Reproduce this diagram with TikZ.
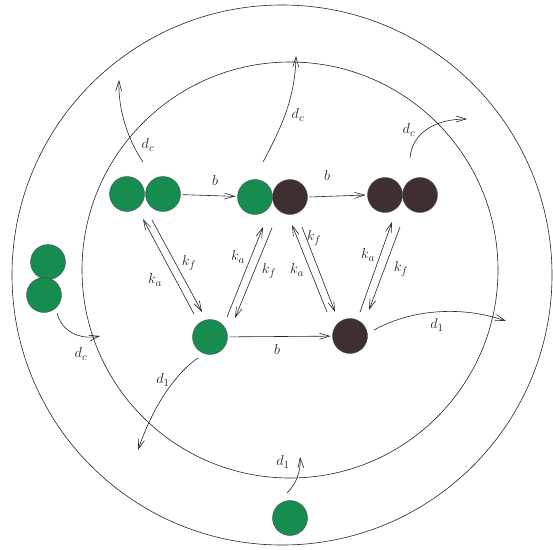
\documentclass[tikz,border=0pt]{standalone}
\usepackage{amsmath,amssymb}
\usepackage{tikz}
\usetikzlibrary{arrows.meta,calc}
\definecolor{ink}{RGB}{40,36,36}
\definecolor{ballgreen}{RGB}{22,140,80}
\definecolor{balldark}{RGB}{62,48,48}

\begin{document}
\begin{tikzpicture}[x=1pt,y=-1pt,line width=0.6pt,
    ball/.style={circle,minimum size=35pt,inner sep=0pt,outer sep=2pt,draw=ink!80,line width=0.4pt},
    gball/.style={ball,fill=ballgreen},
    dball/.style={ball,fill=balldark},
    flow/.style={draw=ink,-{Straight Barb[length=10pt,width=6pt]}},
    rate/.style={font=\fontsize{15}{17}\selectfont,text=ink,inner sep=1pt}]
  \useasboundingbox (0,0) rectangle (553,549);
  \draw[ink] (282,275) circle[radius=270pt];
  \draw[ink] (290,270) circle[radius=208pt];

  \node[gball] (pA1) at (127,194) {};
  \node[gball] (pA2) at (163,194) {};
  \node[gball] (pB1) at (255,197) {};
  \node[dball] (pB2) at (290,197) {};
  \node[dball] (pC1) at (385,195) {};
  \node[dball] (pC2) at (420,195) {};
  \node[gball] (sG) at (210,337) {};
  \node[dball] (sD) at (350,336) {};
  \node[gball] (vA) at (48,262) {};
  \node[gball] (vB) at (44,295) {};
  \node[gball] (bS) at (290,518) {};

  \draw[flow] (pA2) -- (pB1);
  \draw[flow] (pB2.east) -- (pC1.west);
  \draw[flow] (sG) -- (sD);
  \node[rate] (bA) at (215,180) {$b$};
  \node[rate] (bB) at (327,175) {$b$};
  \node[rate] (bC) at (277,349) {$b$};

  \draw[flow] ([shift={(-16,-23)}]sG.center) -- ([shift={(16,25)}]pA1.center);
  \draw[flow] ([shift={(25,26)}]pA1.center) -- ([shift={(-8,-25)}]sG.center);
  \node[rate] (kaA) at (155,280) {$k_a$};
  \node[rate] (kfA) at (189,263) {$k_f$};

  \draw[flow] ([shift={(17,-20)}]sG.center) -- ([shift={(8,30)}]pB1.center);
  \draw[flow] ([shift={(17,31)}]pB1.center) -- ([shift={(25,-19)}]sG.center);
  \node[rate] (kaB) at (238,257) {$k_a$};
  \node[rate] (kfB) at (269,271) {$k_f$};

  \draw[flow] ([shift={(-23,-24)}]sD.center) -- ([shift={(2,28)}]pB2.center);
  \draw[flow] ([shift={(12,30)}]pB2.center) -- ([shift={(-15,-24)}]sD.center);
  \node[rate] (kfC) at (314,238) {$k_f$};
  \node[rate] (kaC) at (297,270) {$k_a$};

  \draw[flow] ([shift={(10,-24)}]sD.center) -- ([shift={(7,27)}]pC1.center);
  \draw[flow] ([shift={(15,32)}]pC1.center) -- ([shift={(19,-26)}]sD.center);
  \node[rate] (kaD) at (368,255) {$k_a$};
  \node[rate] (kfD) at (401,269) {$k_f$};

  \coordinate (outA) at (119,80);
  \coordinate (outB) at (296,56);
  \coordinate (outC) at (467,119);
  \coordinate (inV) at (100,336);
  \coordinate (outG) at (138,450);
  \coordinate (outD) at (506,321);
  \coordinate (inS) at (300,457);

  \draw[flow] ([shift={(16,-32)}]pA1.center) .. controls (128,140) and (118,110) .. (outA);
  \draw[flow] ([shift={(8,-35)}]pB1.center) .. controls (280,130) and (295,100) .. (outB);
  \draw[flow] ([shift={(25,-37)}]pC1.center) .. controls (412,133) and (435,119) .. (outC);
  \draw[flow] ([shift={(13,18)}]vB.center) .. controls (62,332) and (80,340) .. (inV);
  \draw[flow] ([shift={(-12,21)}]sG.center) .. controls (180,370) and (155,400) .. (outG);
  \draw[flow] ([shift={(24,-6)}]sD.center) .. controls (410,310) and (460,305) .. (outD);
  \draw[flow] ([shift={(-3,-25)}]bS.center) .. controls (297,483) and (301,470) .. (inS);

  \node[rate] (dcA) at (148,145) {$d_c$};
  \node[rate] (dcB) at (298,115) {$d_c$};
  \node[rate] (dcC) at (409,130) {$d_c$};
  \node[rate] (dcV) at (81,354) {$d_c$};
  \node[rate] (dlG) at (163,380) {$d_1$};
  \node[rate] (dlD) at (437,325) {$d_1$};
  \node[rate] (dlS) at (283,462) {$d_1$};
\end{tikzpicture}
\end{document}
